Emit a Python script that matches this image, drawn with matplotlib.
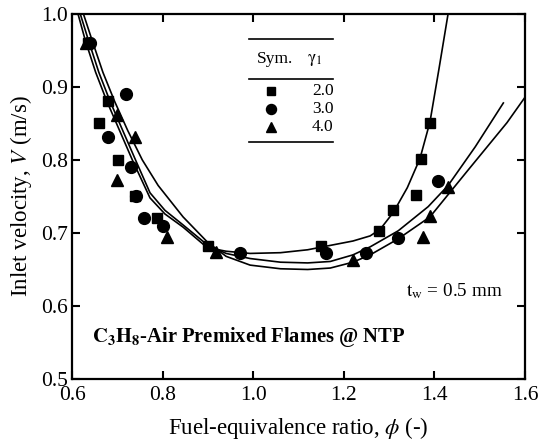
import numpy as np
import matplotlib
matplotlib.use("Agg")
import matplotlib.pyplot as plt
from matplotlib.lines import Line2D

plt.rcParams['font.family'] = ['Liberation Serif', 'DejaVu Serif']
plt.rcParams['mathtext.fontset'] = 'stix'

# measured points, gamma_1 = 2.0 / 3.0 / 4.0
phi_g2 = [0.635, 0.660, 0.679, 0.702, 0.738, 0.788, 0.900, 1.150, 1.278, 1.309, 1.359, 1.370, 1.390]
v_g2 = [0.960, 0.851, 0.881, 0.800, 0.750, 0.721, 0.682, 0.682, 0.703, 0.731, 0.752, 0.801, 0.851]

phi_g3 = [0.640, 0.679, 0.719, 0.730, 0.741, 0.759, 0.801, 0.971, 1.161, 1.249, 1.320, 1.408]
v_g3 = [0.960, 0.832, 0.890, 0.791, 0.750, 0.721, 0.710, 0.672, 0.673, 0.673, 0.693, 0.771]

phi_g4 = [0.631, 0.699, 0.699, 0.739, 0.810, 0.918, 1.220, 1.375, 1.390, 1.430]
v_g4 = [0.960, 0.862, 0.773, 0.832, 0.694, 0.674, 0.663, 0.694, 0.723, 0.763]

# fitted curves
curve_phi_g2 = [0.613, 0.629, 0.652, 0.677, 0.705, 0.733, 0.772, 0.805, 0.845, 0.898, 0.94, 0.993,
                1.06, 1.12, 1.17, 1.22, 1.258, 1.28, 1.309, 1.34, 1.368, 1.39, 1.41, 1.43]
curve_v_g2 = [1.0, 0.964, 0.92, 0.88, 0.84, 0.80, 0.748, 0.726, 0.708, 0.680, 0.675, 0.672,
              0.673, 0.677, 0.683, 0.689, 0.696, 0.705, 0.728, 0.762, 0.802, 0.852, 0.925, 1.0]

curve_phi_g3 = [0.618, 0.636, 0.659, 0.684, 0.712, 0.740, 0.772, 0.805, 0.845, 0.898, 0.94, 0.993,
                1.06, 1.12, 1.17, 1.22, 1.258, 1.32, 1.386, 1.43, 1.49, 1.552]
curve_v_g3 = [1.0, 0.964, 0.92, 0.88, 0.84, 0.80, 0.755, 0.731, 0.711, 0.684, 0.672, 0.665,
              0.660, 0.659, 0.661, 0.670, 0.681, 0.703, 0.736, 0.765, 0.818, 0.878]

curve_phi_g4 = [0.625, 0.644, 0.668, 0.694, 0.723, 0.755, 0.790, 0.845, 0.898, 0.94, 0.993,
                1.06, 1.12, 1.17, 1.22, 1.258, 1.32, 1.39, 1.474, 1.56, 1.60]
curve_v_g4 = [1.0, 0.964, 0.92, 0.88, 0.84, 0.80, 0.765, 0.722, 0.688, 0.668, 0.656,
              0.651, 0.650, 0.652, 0.660, 0.670, 0.692, 0.722, 0.786, 0.851, 0.886]

gamma_labels = ['2.0', '3.0', '4.0']
markers = ['s', 'o', '^']
msizes = [7.5, 8.5, 9]

fig = plt.figure(figsize=(5.38, 4.47), dpi=100)
ax = fig.add_axes([0.134, 0.152, 0.842, 0.817])

for cx, cy in [(curve_phi_g2, curve_v_g2), (curve_phi_g3, curve_v_g3), (curve_phi_g4, curve_v_g4)]:
    ax.plot(cx, cy, color='black', lw=1.2)

for px, py, m, ms in zip([phi_g2, phi_g3, phi_g4], [v_g2, v_g3, v_g4], markers, msizes):
    ax.plot(px, py, m, color='black', ms=ms, ls='none')

ax.set_xlim(0.6, 1.6)
ax.set_ylim(0.5, 1.0)
ax.set_xticks(np.arange(0.6, 1.61, 0.2))
ax.set_yticks(np.arange(0.5, 1.01, 0.1))
ax.xaxis.set_major_formatter(matplotlib.ticker.FormatStrFormatter('%.1f'))
ax.yaxis.set_major_formatter(matplotlib.ticker.FormatStrFormatter('%.1f'))
ax.tick_params(direction='in', top=True, right=True, length=6, width=1.5, labelsize=15.5)
ax.tick_params(axis='x', pad=5)
ax.tick_params(axis='y', pad=3)
for s in ax.spines.values():
    s.set_linewidth(1.6)

ax.set_xlabel(r'Fuel-equivalence ratio, $\phi$ (-)', fontsize=16.5, labelpad=7)
ax.set_ylabel(r'Inlet velocity, $\mathit{V}$ (m/s)', fontsize=16.5, labelpad=5)

# legend drawn as a small table
tx0, tx1 = 0.39, 0.575
for yy in [0.930, 0.822, 0.650]:
    ax.add_line(Line2D([tx0, tx1], [yy, yy], transform=ax.transAxes, color='black', lw=1.2))
ax.text(0.448, 0.876, 'Sym.', transform=ax.transAxes, fontsize=12.5, ha='center', va='center')
ax.text(0.536, 0.874, r'$\mathrm{\gamma_1}$', transform=ax.transAxes, fontsize=12.5, ha='center', va='center')
for i, (lab, m, ms) in enumerate(zip(gamma_labels, markers, msizes)):
    yy = 0.789 - i * 0.049
    ax.plot([0.44], [yy], m, color='black', ms=ms * 0.85, transform=ax.transAxes, clip_on=False)
    ax.text(0.553, yy, lab, transform=ax.transAxes, fontsize=12.5, ha='center', va='center')

ax.text(0.951, 0.24, r'$\mathrm{t_w}$ = 0.5 mm', transform=ax.transAxes, fontsize=13.8,
        ha='right', va='center')
ax.text(0.044, 0.115, r'$\mathbf{C_3H_8}$-Air Premixed Flames @ NTP', transform=ax.transAxes,
        fontsize=14.8, fontweight='bold', ha='left', va='center')

fig.savefig('out.png', dpi=100)
